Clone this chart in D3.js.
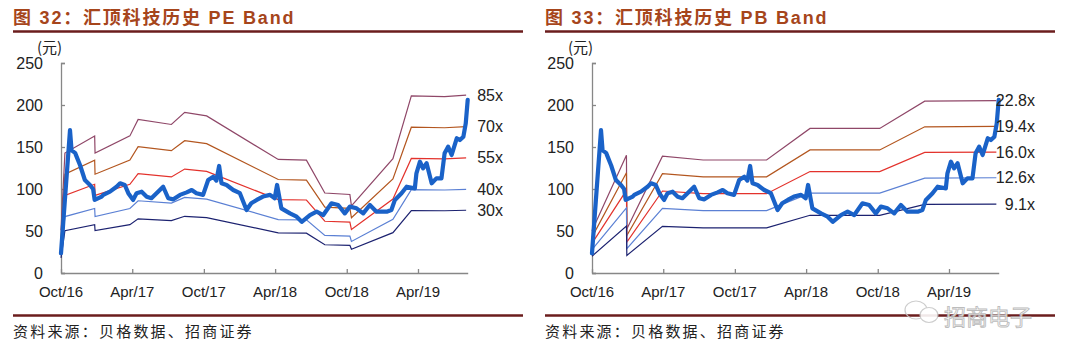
<!DOCTYPE html>
<html><head><meta charset="utf-8">
<script src="https://cdn.jsdelivr.net/npm/d3@7"></script>
<style>body{margin:0;background:#fff} svg{display:block}</style>
</head><body><svg id="c" width="1073" height="352"></svg>
<script>
// ---------- data ----------
const tickDates = ["2016-10-17","2017-04-17","2017-10-17","2018-04-17","2018-10-17","2019-04-17"];
const tickLabels = ["Oct/16","Apr/17","Oct/17","Apr/18","Oct/18","Apr/19"];
const yTicks = [0,50,100,150,200,250];

const priceDates = ["2016-10-17","2016-11-09","2016-11-13","2016-11-22","2016-12-05","2016-12-17","2016-12-30","2017-01-07","2017-01-11","2017-01-29","2017-02-02","2017-02-19","2017-03-08","2017-03-17","2017-03-29","2017-04-07","2017-04-19","2017-04-28","2017-05-11","2017-05-24","2017-06-05","2017-06-18","2017-07-05","2017-07-18","2017-07-31","2017-08-17","2017-09-03","2017-09-16","2017-09-28","2017-10-15","2017-10-28","2017-11-10","2017-11-18","2017-11-25","2017-12-01","2017-12-14","2017-12-31","2018-01-17","2018-02-03","2018-02-15","2018-03-01","2018-03-17","2018-04-04","2018-04-16","2018-04-22","2018-05-03","2018-05-25","2018-06-11","2018-06-24","2018-07-15","2018-08-01","2018-08-18","2018-09-08","2018-09-25","2018-10-12","2018-10-25","2018-11-11","2018-11-28","2018-12-15","2019-01-01","2019-01-27","2019-02-08","2019-02-17","2019-03-06","2019-03-19","2019-04-09","2019-04-13","2019-04-22","2019-04-30","2019-05-09","2019-05-22","2019-06-03","2019-06-16","2019-06-24","2019-07-03","2019-07-12","2019-07-25","2019-08-02","2019-08-11","2019-08-17","2019-08-22"];
const priceValues = [23.5,170,146,143,128,110.7,104.8,100,87,91,93,96.8,102.7,106.8,104.8,95,87,95,96.8,90.8,89,95,102.7,89,87.7,93,96,98.8,95,93,110.7,114.6,110,127.4,106.8,104.8,98.8,95,75,83,87,91,93,89,104.8,77,71,67,61,69,73,69,83,81,71,79,77,71,81,73,73,75,87,95,102.7,100.8,118.7,132.5,124.6,130.6,106.8,112.7,112.7,142.5,150.4,140.5,160.4,158.3,162.3,178,206];

const peDates = ["2016-10-17","2016-10-27","2017-01-11","2017-01-12","2017-04-11","2017-05-02","2017-07-26","2017-08-29","2017-10-24","2018-04-25","2018-07-06","2018-08-22","2018-10-25","2018-10-29","2019-02-12","2019-03-31","2019-06-24","2019-08-18"];
const peEps = [0.6,1.68,1.92,1.68,1.92,2.15,2.08,2.25,2.2,1.59,1.58,1.12,1.1,0.94,1.6,2.48,2.47,2.49];
const peMultiples = [85,70,55,40,30];
const peLabels = ["85x","70x","55x","40x","30x"];

const pbDates = ["2016-10-17","2017-01-13","2017-01-14","2017-04-15","2017-07-28","2018-01-06","2018-04-27","2018-10-22","2019-02-14","2019-08-16"];
const pbBps = [2.2,6.15,2.3,6.1,5.9,5.9,7.55,7.55,8.97,9.0];
const pbMultiples = [22.8,19.4,16.0,12.6,9.1];
const pbLabels = ["22.8x","19.4x","16.0x","12.6x","9.1x"];

const titles = ["图 32：汇顶科技历史 PE Band","图 33：汇顶科技历史 PB Band"];
const sourceText = "资料来源：贝格数据、招商证券";
const yUnit = "(元)";
const watermark = "招商电子";

// ---------- drawing ----------
const parse = d3.timeParse("%Y-%m-%d");
const svg = d3.select("#c");
const bandColors = ["#8f4768","#b3561f","#e3322c","#5b80d4","#1c2270"];
const price = priceDates.map((d,i)=>({date:parse(d), v:priceValues[i]}));

function panel(ox, axisX, title, dates, base, mults, labels, labelRight){
  const g = svg.append("g");
  g.append("text").attr("x", ox).attr("y", 24).text(title)
    .attr("font-family","'Liberation Sans','Noto Sans CJK SC',sans-serif")
    .attr("font-weight","bold").attr("font-size",18).attr("letter-spacing",1.8)
    .attr("fill","#a6451b");
  g.append("line").attr("x1",ox).attr("x2",ox+510).attr("y1",31.5).attr("y2",31.5)
    .attr("stroke","#6b1d1d").attr("stroke-width",2.5);
  g.append("line").attr("x1",ox).attr("x2",ox+510).attr("y1",315.5).attr("y2",315.5)
    .attr("stroke","#6b1d1d").attr("stroke-width",2.5);
  g.append("text").attr("x",ox).attr("y",337).text(sourceText)
    .attr("font-family","'Noto Sans CJK SC',sans-serif").attr("font-size",15)
    .attr("letter-spacing",2.2).attr("fill","#222");

  const x = d3.scaleTime().domain([parse("2016-10-17"), parse("2019-08-22")]).range([axisX, axisX+406.7]);
  const y = d3.scaleLinear().domain([0,250]).range([273,63]);

  g.append("text").attr("x",axisX-24).attr("y",53).text(yUnit)
    .attr("font-family","'Noto Sans CJK SC',sans-serif").attr("font-size",15).attr("fill","#222");

  const font = "'Liberation Sans',Arial,sans-serif";
  const ya = g.append("g").attr("transform",`translate(${axisX},0)`)
    .call(d3.axisRight(y).tickValues(yTicks).tickSize(4).tickFormat(""));
  ya.select(".domain").attr("stroke","#878787").attr("stroke-width",1.3);
  ya.selectAll(".tick line").attr("stroke","#878787").attr("stroke-width",1.3);
  g.selectAll(".ylab").data(yTicks).join("text")
    .attr("x",axisX-18).attr("y",d=>y(d)+5.5).attr("text-anchor","end")
    .attr("font-family",font).attr("font-size",16).attr("fill","#222").text(d=>d);

  const xa = g.append("g").attr("transform",`translate(0,273)`)
    .call(d3.axisTop(x).tickValues(tickDates.map(parse)).tickSize(4).tickSizeOuter(0).tickFormat(""));
  xa.select(".domain").attr("stroke","#878787").attr("stroke-width",1.5);
  xa.selectAll(".tick line").attr("stroke","#878787").attr("stroke-width",1.3);
  g.selectAll(".xlab").data(tickDates).join("text")
    .attr("x",d=>x(parse(d))).attr("y",297).attr("text-anchor","middle")
    .attr("font-family",font).attr("font-size",15).attr("fill","#222")
    .text((d,i)=>tickLabels[i]);

  const line = d3.line().x(d=>x(d.date)).y(d=>y(d.v));
  mults.forEach((m,k)=>{
    const pts = dates.map((d,i)=>({date:parse(d), v:m*base[i]}));
    g.append("path").datum(pts).attr("d",line).attr("fill","none")
      .attr("stroke",bandColors[k]).attr("stroke-width",1.2);
  });
  g.append("path").datum(price).attr("d",line).attr("fill","none")
    .attr("stroke","#1a62c8").attr("stroke-width",4.2).attr("stroke-linejoin","round").attr("stroke-linecap","round");
  mults.forEach((m,k)=>{
    g.append("text").attr("x",labelRight).attr("y",y(m*base[base.length-1])+5.5)
      .attr("text-anchor","end").attr("font-family",font).attr("font-size",16)
      .attr("fill","#222").text(labels[k]);
  });
}

panel(13, 61, titles[0], peDates, peEps, peMultiples, peLabels, 503);
panel(545, 592, titles[1], pbDates, pbBps, pbMultiples, pbLabels, 1035);

// watermark
const wm = svg.append("g").attr("opacity",0.9);
wm.append("ellipse").attr("cx",916).attr("cy",310).attr("rx",11).attr("ry",9).attr("fill","none").attr("stroke","#c8c8c8").attr("stroke-width",1.2);
wm.append("ellipse").attr("cx",929).attr("cy",315).attr("rx",9).attr("ry",7.5).attr("fill","#fff").attr("stroke","#c8c8c8").attr("stroke-width",1.2);
wm.append("text").attr("x",944).attr("y",325).text(watermark)
  .attr("font-family","'Noto Sans CJK SC',sans-serif").attr("font-size",22)
  .attr("fill","#fff").attr("stroke","#b5b5b5").attr("stroke-width",0.9);
</script></body></html>
